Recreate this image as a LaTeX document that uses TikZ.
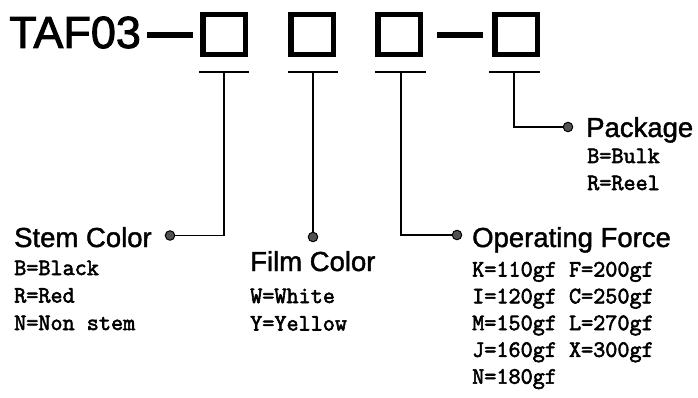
\documentclass[tikz,border=0pt]{standalone}
\usepackage{fontspec}
\setmainfont{Liberation Sans}
\setmonofont{Latin Modern Mono}
\newfontfamily\optfont{Latin Modern Mono}[FakeBold=2.5]
\newfontfamily\headfont{Liberation Sans}[FakeBold=1.5]
\newfontfamily\titlefont{Liberation Sans}[FakeBold=2]
\definecolor{pingray}{gray}{0.32}
\begin{document}
\begin{tikzpicture}[x=1pt,y=-1pt,
  box/.style={draw,line width=5.5pt,minimum width=42.5pt,minimum height=40pt,inner sep=0pt},
  bar/.style={line width=6pt},
  uline/.style={line width=1.6pt},
  conn/.style={line width=1.6pt},
  pin/.style={circle,draw=black,fill=pingray,line width=1pt,minimum size=9.5pt,inner sep=0pt},
  head/.style={anchor=base west,inner sep=0pt,font=\headfont\fontsize{27.5}{30}\selectfont},
  opt/.style={anchor=base west,inner sep=0pt,font=\optfont\fontsize{23.5}{27}\selectfont},
]
\useasboundingbox (0,0) rectangle (698,398);
% title and boxes
\node[anchor=base west,inner sep=0pt,font=\titlefont\fontsize{45}{50}\selectfont] (title) at (9,48) {TAF03};
\node[box] (b1) at (224,34.6) {};
\node[box] (b2) at (312,34.6) {};
\node[box] (b3) at (399,34.6) {};
\node[box] (b4) at (516,34.6) {};
\coordinate (d1s) at (147,35);
\coordinate (d1e) at (193,35);
\coordinate (d2s) at (437,35);
\coordinate (d2e) at (483,35);
\draw[bar] (d1s) -- (d1e);
\draw[bar] (d2s) -- (d2e);
% underlines
\coordinate (u1) at (224,72);
\coordinate (u2) at (313,72);
\coordinate (u3) at (401,72);
\coordinate (u4) at (514,72);
\draw[uline] (199,72) -- (249,72);
\draw[uline] (288,72) -- (338,72);
\draw[uline] (375,72) -- (426,72);
\draw[uline] (489,72) -- (540,72);
% pins
\node[pin] (p1) at (170,235.5) {};
\node[pin] (p2) at (313,237) {};
\node[pin] (p3) at (457,235) {};
\node[pin] (p4) at (568,127) {};
\draw[conn] (u1) |- (p1);
\draw[conn] (u2) -- (p2);
\draw[conn] (u3) |- (p3);
\draw[conn] (u4) |- (p4);
% stem color
\node[head] (hs) at (14,247) {Stem Color};
\node[opt] (s1) at (14,275) {B=Black};
\node[opt] (s2) at (14,302.5) {R=Red};
\node[opt] (s3) at (14,330) {N=Non stem};
% film color
\node[head] (hf) at (250,271) {Film Color};
\node[opt] (f1) at (250,303) {W=White};
\node[opt] (f2) at (250,330.5) {Y=Yellow};
% operating force
\node[head] (ho) at (472,247) {Operating Force};
\node[opt] (o1) at (472,276.5) {K=110gf F=200gf};
\node[opt] (o2) at (472,303.3) {I=120gf C=250gf};
\node[opt] (o3) at (472,330.1) {M=150gf L=270gf};
\node[opt] (o4) at (472,356.9) {J=160gf X=300gf};
\node[opt] (o5) at (472,383.7) {N=180gf};
% package
\node[head] (hp) at (586,137) {Package};
\node[opt] (k1) at (587,163) {B=Bulk};
\node[opt] (k2) at (587,190) {R=Reel};
\end{tikzpicture}
\end{document}
